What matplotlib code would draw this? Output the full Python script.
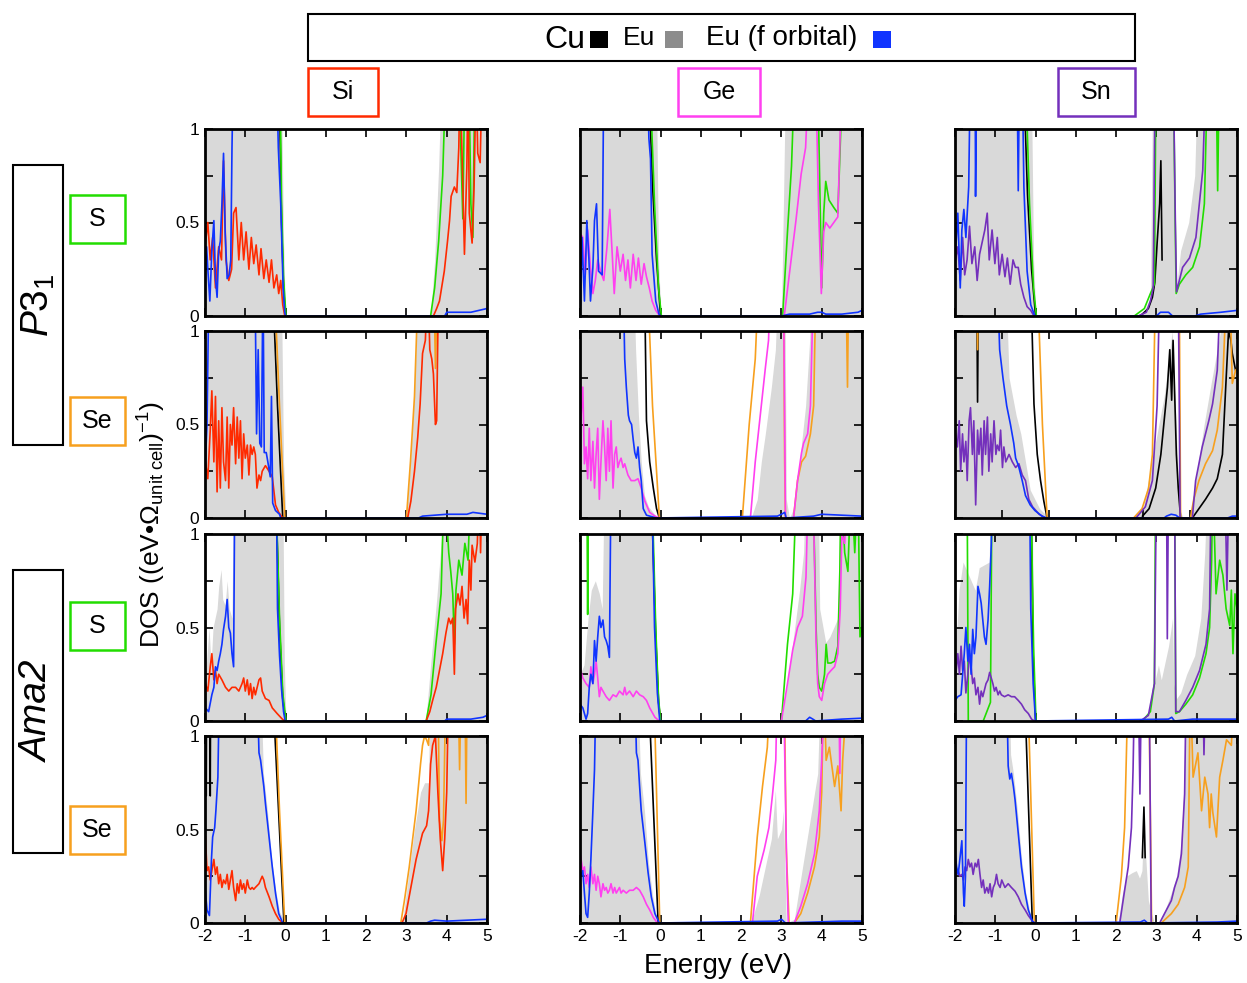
import numpy as np
import matplotlib
matplotlib.use('Agg')
import matplotlib.pyplot as plt
from matplotlib.patches import Rectangle

plt.rcParams['font.family'] = ['Liberation Sans', 'DejaVu Sans']
plt.rcParams['mathtext.fontset'] = 'custom'
plt.rcParams['mathtext.rm'] = 'Liberation Sans'
plt.rcParams['mathtext.it'] = 'Liberation Sans:italic'

NAN = float('nan')
GAP = (NAN, NAN)

# (energy in eV, DOS) pairs; 1.3 / 1.5 means off the top of the scale
# ---------------- P3_1 , S ----------------
si_ps_eu = [(-2, 1.5), (-0.12, 1.5), (-0.05, 0.4), (0, 0), (3.6, 0), (3.7, 0.3), (3.8, 0.8), (3.9, 1.5), (5, 1.5)]
si_ps_euf = [(-2.0, .2), (-1.96, .37), (-1.93, .25), (-1.88, .08), (-1.83, .35), (-1.78, .51), (-1.74, .2), (-1.70, .1),
             (-1.66, .35), (-1.62, .4), (-1.58, .6), (-1.54, .87), (-1.50, .45), (-1.45, .2), (-1.40, .22), (-1.36, .3),
             (-1.33, .9), (-1.30, 1.3), (-0.22, 1.3), (-0.18, .9), (-0.12, .6), (-0.06, .15), (-0.02, .02), (0, 0),
             (3.95, 0), (4.0, .02), (4.3, .02), (4.6, .02), (5.0, .04)]
si_ps_x = [(-1.99, .39), (-1.93, .5), (-1.87, .3), (-1.81, .42), (-1.74, .15), (-1.66, .37), (-1.59, .3), (-1.54, .83),
           (-1.48, .3), (-1.41, .19), (-1.34, .25), (-1.29, .55), (-1.23, .58), (-1.16, .3), (-1.10, .5), (-1.04, .3),
           (-0.98, .45), (-0.91, .25), (-0.85, .42), (-0.79, .28), (-0.73, .38), (-0.66, .22), (-0.61, .36), (-0.54, .2),
           (-0.48, .3), (-0.41, .18), (-0.35, .3), (-0.29, .15), (-0.22, .22), (-0.17, .12), (-0.12, .19), (-0.07, .06),
           (-0.02, 0), GAP, (3.67, 0), (3.75, .04), (3.82, .08), (3.94, .24), (4.02, .4), (4.07, .51), (4.11, .64),
           (4.19, .69), (4.25, .66), (4.3, .9), (4.33, 1.3), (4.38, .87), (4.44, .33), (4.5, .8), (4.53, 1.3),
           (4.56, .55), (4.63, .39), (4.68, .7), (4.73, 1.3), (4.77, .87), (4.83, .82), (4.88, 1.3), (5.0, 1.3)]
si_ps_ch = [(-2, 1.3), (-0.14, 1.3), (-0.1, .6), (-0.05, .2), (0.01, 0), GAP, (3.6, 0), (3.7, .15), (3.8, .4), (3.9, .75),
            (3.98, 1.3), (4.3, 1.3), (4.35, .9), (4.4, .52), (4.45, 1.3), (4.55, 1.3), (4.6, .6), (4.65, .42),
            (4.7, 1.3), (5, 1.3)]
si_ps_cu = [(-2, 1.3), (-0.16, 1.3), (-0.1, .5), (-0.05, .15), (0, 0)]

ge_ps_eu = [(-2, 1.5), (-0.12, 1.5), (-0.05, .3), (0.01, 0), (3.0, 0), (3.05, .6), (3.12, 1.5), (5, 1.5)]
ge_ps_euf = [(-1.99, .06), (-1.95, .42), (-1.89, .08), (-1.83, .51), (-1.78, .31), (-1.74, .08), (-1.68, .26),
             (-1.64, .51), (-1.59, .6), (-1.54, .24), (-1.45, .22), (-1.41, 1.3), (-0.33, 1.3), (-0.29, .95),
             (-0.25, .84), (-0.21, .33), (-0.12, .08), (-0.04, .01), (0, 0), (3.0, 0), (3.2, .01), (3.7, .01),
             (3.9, .02), (4.0, .02), (4.1, .01), (4.5, .01), (4.9, .02), (5, .03)]
ge_ps_x = [(-1.99, .44), (-1.93, .42), (-1.87, .22), (-1.81, .46), (-1.74, .26), (-1.68, .12), (-1.62, .19),
           (-1.56, .30), (-1.49, .24), (-1.41, .19), (-1.33, .37), (-1.26, .57), (-1.2, .33), (-1.15, .12),
           (-1.08, .37), (-1.0, .24), (-0.93, .33), (-0.87, .19), (-0.81, .30), (-0.75, .15), (-0.68, .33),
           (-0.61, .19), (-0.55, .31), (-0.48, .17), (-0.41, .28), (-0.35, .21), (-0.28, .15), (-0.21, .08),
           (-0.12, .03), (-0.02, 0), GAP, (3.07, 0), (3.24, .3), (3.36, .51), (3.49, .76), (3.6, .9), (3.68, 1.3),
           (3.85, 1.3), (3.92, .6), (3.99, .12), (4.05, .45), (4.1, .5), (4.2, .47), (4.3, .5), (4.4, .53),
           (4.5, 1.3), (5, 1.3)]
ge_ps_ch = [(-2, 1.3), (-0.27, 1.3), (-0.15, .6), (-0.05, .15), (0.02, 0), GAP, (3.03, 0), (3.15, .45), (3.25, .8),
            (3.33, 1.3), (3.9, 1.3), (3.96, .6), (4.0, .15), (4.05, .55), (4.1, .72), (4.18, .62), (4.3, .58),
            (4.4, .55), (4.45, .85), (4.52, 1.3), (5, 1.3)]
ge_ps_cu = [(-2, 1.3), (-0.3, 1.3), (-0.2, .7), (-0.1, .3), (0, 0)]

sn_ps_eu = [(-2, 1.5), (-0.12, 1.5), (-0.05, .3), (0.01, 0), (2.5, 0), (2.7, .03), (2.85, .1), (2.92, 1.5),
            (3.42, 1.5), (3.47, .1), (3.6, .35), (3.8, .5), (3.95, .75), (4.05, 1.5), (5, 1.5)]
sn_ps_euf = [(-1.99, .33), (-1.93, .55), (-1.87, .15), (-1.83, .46), (-1.78, .57), (-1.73, .42), (-1.66, .69),
             (-1.62, 1.3), (-1.5, 1.3), (-1.49, .64), (-1.46, 1.3), (-0.46, 1.3), (-0.43, .67), (-0.40, 1.3),
             (-0.33, 1.3), (-0.29, .69), (-0.21, .24), (-0.12, .06), (-0.02, 0), (3.0, 0), (3.1, .02), (3.3, .02),
             (3.4, 0), (3.95, 0), (4.1, .01), (4.6, .02), (5, .03)]
sn_ps_x = [(-1.99, .30), (-1.93, .37), (-1.87, .19), (-1.81, .42), (-1.76, .22), (-1.70, .30), (-1.64, .48),
           (-1.58, .28), (-1.51, .37), (-1.45, .19), (-1.39, .33), (-1.33, .39), (-1.26, .46), (-1.20, .55),
           (-1.15, .30), (-1.08, .46), (-1.01, .28), (-0.95, .42), (-0.90, .22), (-0.83, .33), (-0.76, .21),
           (-0.70, .31), (-0.63, .17), (-0.56, .30), (-0.50, .26), (-0.43, .26), (-0.37, .17), (-0.29, .10),
           (-0.21, .05), (-0.12, .03), (-0.04, 0), GAP, (2.55, 0), (2.75, .02), (2.85, .08), (2.92, .15),
           (2.97, 1.3), (3.42, 1.3), (3.47, .5), (3.5, .13), (3.65, .26), (3.82, .31), (3.98, .42), (4.15, .78),
           (4.23, 1.3), (5, 1.3)]
sn_ps_ch = [(-2, 1.3), (-0.25, 1.3), (-0.15, .6), (-0.05, .15), (0.02, 0), GAP, (2.45, 0), (2.7, .04), (2.85, .12),
            (2.95, .17), (2.99, 1.3), (3.42, 1.3), (3.46, .6), (3.49, .12), (3.57, .17), (3.73, .22), (3.9, .26),
            (4.07, .37), (4.19, .6), (4.27, 1.3), (4.48, 1.3), (4.52, .67), (4.56, 1.3), (5, 1.3)]
sn_ps_cu = [(-2, 1.3), (-0.3, 1.3), (-0.2, .65), (-0.1, .25), (0, 0), GAP, (2.6, 0), (2.8, .04), (2.9, .1),
            (2.96, .18), (3.02, .4), (3.08, .6), (3.11, .83), (3.14, .3)]

# ---------------- P3_1 , Se ----------------
si_pse_eu = [(-2, 1.5), (-0.12, 1.5), (-0.05, .3), (0.01, 0), (3.0, 0), (3.1, .3), (3.2, .7), (3.35, 1.5), (5, 1.5)]
si_pse_euf = [(-2, .25), (-1.95, .5), (-1.9, 1.3), (-0.76, 1.3), (-0.72, .45), (-0.68, .9), (-0.64, .4), (-0.6, .38),
              (-0.56, 1.3), (-0.53, .35), (-0.48, .35), (-0.44, .3), (-0.38, .22), (-0.35, .65), (-0.32, .08),
              (-0.25, .04), (-0.15, .02), (-0.12, 0), (3.3, 0), (3.4, .01), (4.0, .02), (4.5, .02), (4.65, .03),
              (5, .02)]
si_pse_x = [(-1.99, .30), (-1.93, .21), (-1.87, .47), (-1.83, .68), (-1.78, .30), (-1.74, .65), (-1.70, .14),
            (-1.66, .52), (-1.62, .16), (-1.58, .59), (-1.54, .30), (-1.49, .20), (-1.45, .54), (-1.41, .16),
            (-1.37, .50), (-1.33, .39), (-1.29, .59), (-1.24, .29), (-1.20, .54), (-1.16, .32), (-1.12, .52),
            (-1.08, .21), (-1.04, .45), (-1.0, .32), (-0.95, .39), (-0.91, .23), (-0.87, .39), (-0.83, .34),
            (-0.79, .38), (-0.75, .34), (-0.71, .16), (-0.66, .23), (-0.62, .20), (-0.58, .25), (-0.5, .28),
            (-0.41, .25), (-0.33, .22), (-0.25, .07), (-0.17, .03), (-0.07, 0), GAP, (3.03, 0), (3.11, .09),
            (3.2, .25), (3.28, .43), (3.34, .61), (3.4, .88), (3.47, .95), (3.53, 1.3), (3.58, .9), (3.63, .85),
            (3.67, .77), (3.72, .5), (3.75, .52), (3.8, 1.3), (5, 1.3)]
si_pse_ch = [(-2, 1.3), (-0.29, 1.3), (-0.15, .6), (-0.02, 0), GAP, (3.0, 0), (3.1, .3), (3.2, .65), (3.3, 1.3),
             (3.68, 1.3), (3.72, .8), (3.77, 1.3), (5, 1.3)]
si_pse_cu = [(-2, 1.3), (-0.33, 1.3), (-0.2, .6), (-0.07, 0)]

ge_pse_eu = [(-2, 1.5), (-0.7, 1.5), (-0.62, .9), (-0.55, .55), (-0.48, .3), (-0.4, .12), (-0.3, .06), (-0.15, .02),
             (-0.05, 0), (2.25, 0), (2.4, .1), (2.5, .3), (2.6, .45), (2.75, .7), (2.85, .9), (2.95, 1.5), (3.08, 1.5),
             (3.12, .1), (3.2, 0), (3.3, .05), (3.45, .3), (3.6, .6), (3.7, .95), (3.75, 1.5), (5, 1.5)]
ge_pse_euf = [(-2, 1.3), (-0.93, 1.3), (-0.89, .85), (-0.85, .7), (-0.8, .55), (-0.77, .52), (-0.72, .5),
              (-0.68, .42), (-0.64, .35), (-0.6, .32), (-0.56, .38), (-0.52, .27), (-0.48, .2), (-0.43, .05),
              (-0.35, .015), (-0.1, 0), (2.9, .01), (3.0, .02), (3.08, .03), (3.12, 0), (3.8, .01), (4.0, .02),
              (4.5, .015), (5, .01)]
ge_pse_x = [(-2.0, .30), (-1.98, .52), (-1.93, .70), (-1.89, .29), (-1.85, .38), (-1.81, .21), (-1.77, .48),
            (-1.73, .20), (-1.68, .41), (-1.64, .16), (-1.6, .34), (-1.56, .48), (-1.52, .10), (-1.48, .30),
            (-1.43, .52), (-1.39, .38), (-1.35, .20), (-1.31, .48), (-1.27, .25), (-1.23, .52), (-1.18, .16),
            (-1.14, .34), (-1.1, .38), (-1.06, .27), (-1.02, .30), (-0.98, .32), (-0.93, .27), (-0.89, .29),
            (-0.81, .23), (-0.73, .20), (-0.64, .20), (-0.56, .21), (-0.48, .16), (-0.39, .09), (-0.27, .03),
            (-0.14, .01), (-0.03, 0), GAP, (2.23, 0), (2.35, .3), (2.5, .6), (2.6, .8), (2.68, .95), (2.73, 1.3),
            (3.05, 1.3), (3.1, 0), (3.3, 0), (3.4, .2), (3.5, .35), (3.55, .4), (3.65, .45), (3.72, .6),
            (3.8, 1.3), (5, 1.3)]
ge_pse_ch = [(-2, 1.3), (-0.33, 1.3), (-0.2, .6), (-0.1, .25), (-0.03, 0), GAP, (2.03, 0), (2.2, .5), (2.35, .85),
             (2.44, 1.3), (3.05, 1.3), (3.08, .3), (3.1, 0), (3.3, 0), (3.4, .2), (3.5, .3), (3.6, .33),
             (3.65, .38), (3.72, .45), (3.8, .6), (3.86, 1.3), (4.6, 1.3), (4.64, .7), (4.67, 1.3), (5, 1.3)]
ge_pse_cu = [(-2, 1.3), (-0.4, 1.3), (-0.35, .52), (-0.27, .3), (-0.18, .16), (-0.1, .05), (-0.03, 0)]

# this panel runs from -2 to 4 eV
sn_pse_eu = [(-2, 1.5), (-0.95, 1.5), (-0.85, .75), (-0.7, .55), (-0.6, .45), (-0.5, .3), (-0.4, .15), (-0.2, .05),
             (0, 0), (1.85, 0), (2.0, .05), (2.15, .25), (2.3, .45), (2.45, .65), (2.55, .85), (2.62, 1.0),
             (2.67, .7), (2.72, .4), (2.78, .05), (2.85, 0), (3.0, 0), (3.15, .25), (3.3, .5), (3.45, .72),
             (3.65, 1.0), (3.75, 1.5), (4, 1.5)]
sn_pse_euf = [(-2, 1.3), (-1.1, 1.3), (-1.05, .9), (-0.98, .75), (-0.9, .6), (-0.82, .5), (-0.75, .4), (-0.71, .32),
              (-0.65, .28), (-0.57, .2), (-0.5, .12), (-0.4, .07), (-0.3, .04), (-0.15, .01), (-0.05, 0),
              (2.45, 0), (2.5, .01), (2.6, .02), (2.7, .015), (2.78, 0), (3.8, 0), (3.9, .01), (4, .01)]
sn_pse_x = [(-1.99, .45), (-1.95, .38), (-1.91, .52), (-1.88, .25), (-1.84, .45), (-1.81, .30), (-1.77, .41),
            (-1.74, .20), (-1.70, .52), (-1.67, .59), (-1.63, .34), (-1.60, .52), (-1.56, .07), (-1.52, .47),
            (-1.49, .34), (-1.45, .48), (-1.42, .23), (-1.38, .52), (-1.35, .34), (-1.31, .54), (-1.28, .25),
            (-1.24, .45), (-1.21, .30), (-1.17, .52), (-1.13, .34), (-1.10, .39), (-1.06, .36), (-1.03, .47),
            (-0.99, .27), (-0.96, .38), (-0.92, .30), (-0.85, .34), (-0.78, .30), (-0.71, .27), (-0.64, .29),
            (-0.57, .23), (-0.50, .20), (-0.43, .10), (-0.35, .06), (-0.21, .02), (-0.07, 0), GAP, (1.85, 0),
            (2.05, .06), (2.2, .2), (2.3, .6), (2.36, 1.3), (2.75, 1.3), (2.79, 0), (3.05, 0), (3.12, .2),
            (3.26, .38), (3.4, .52), (3.48, .61), (3.58, .79), (3.66, 1.3), (4, 1.3)]
sn_pse_ch = [(-2, 1.3), (-1.54, 1.3), (-1.52, .9), (-1.5, 1.3), (-0.25, 1.3), (-0.14, .5), (-0.04, 0), GAP,
             (1.8, 0), (1.98, .05), (2.12, .16), (2.2, .34), (2.27, 1.3), (2.77, 1.3), (2.8, 0), (3.01, 0),
             (3.08, .1), (3.19, .2), (3.33, .29), (3.48, .36), (3.58, .47), (3.69, .7), (3.79, 1.3), (3.84, 1.3),
             (3.9, .72), (3.97, .79), (4.0, .8)]
sn_pse_cu = [(-2, 1.3), (-1.54, 1.3), (-1.52, .62), (-1.5, 1.3), (-0.39, 1.3), (-0.32, .61), (-0.25, .34),
             (-0.18, .2), (-0.11, .09), (-0.04, 0), GAP, (1.99, .01), (2.13, .05), (2.27, .16), (2.38, .34),
             (2.45, .52), (2.52, .7), (2.57, .9), (2.61, .63), (2.64, .95), (2.68, .61), (2.71, .34), (2.75, .16),
             (2.8, 0), GAP, (3.05, 0), (3.19, .05), (3.33, .1), (3.48, .16), (3.58, .21), (3.69, .34), (3.76, .7),
             (3.82, 1.0), (3.87, .95), (3.9, .88), (3.97, .79)]

# ---------------- Ama2 , S ----------------
si_as_eu = [(-2, .2), (-1.95, .35), (-1.9, .5), (-1.85, .3), (-1.8, .5), (-1.75, .55), (-1.7, .6), (-1.66, .72),
            (-1.6, .81), (-1.56, .65), (-1.5, .62), (-1.45, .75), (-1.4, .6), (-1.33, .55), (-1.28, 1.5),
            (-0.08, 1.5), (-0.03, .3), (0.01, 0), (3.48, 0), (3.6, .3), (3.75, .65), (3.88, 1.0), (3.92, 1.5),
            (5, 1.5)]
si_as_euf = [(-1.99, .07), (-1.91, .05), (-1.83, .14), (-1.78, .18), (-1.74, .29), (-1.70, .27), (-1.66, .32),
             (-1.62, .36), (-1.58, .41), (-1.54, .49), (-1.49, .56), (-1.45, .65), (-1.41, .50), (-1.37, .47),
             (-1.33, .36), (-1.29, .29), (-1.26, 1.3), (-0.23, 1.3), (-0.2, .6), (-0.15, .35), (-0.1, .17),
             (-0.05, .05), (-0.01, 0), (3.95, 0), (4.0, .01), (4.6, .01), (4.9, .02), (5, .03)]
si_as_x = [(-1.99, .20), (-1.93, .16), (-1.87, .29), (-1.83, .36), (-1.78, .22), (-1.74, .27), (-1.70, .20),
           (-1.66, .25), (-1.58, .22), (-1.49, .18), (-1.41, .16), (-1.33, .18), (-1.24, .18), (-1.16, .16),
           (-1.08, .20), (-1.04, .23), (-1.0, .16), (-0.95, .22), (-0.91, .14), (-0.87, .20), (-0.83, .12),
           (-0.79, .18), (-0.75, .14), (-0.66, .22), (-0.62, .23), (-0.58, .16), (-0.5, .12), (-0.41, .11),
           (-0.33, .07), (-0.21, .04), (-0.08, .01), (-0.02, 0), GAP, (3.49, 0), (3.58, .05), (3.65, .11),
           (3.74, .18), (3.82, .27), (3.9, .36), (3.98, .47), (4.05, .55), (4.1, .52), (4.15, .55), (4.19, .25),
           (4.22, .6), (4.28, .68), (4.33, .62), (4.38, .72), (4.43, .55), (4.48, .65), (4.52, .52), (4.56, .86),
           (4.6, .7), (4.63, .94), (4.7, .85), (4.76, .95), (4.81, 1.3), (4.84, .9), (4.88, 1.3), (5, 1.3)]
si_as_ch = [(-2, 1.3), (-0.25, 1.3), (-0.15, .55), (-0.07, .15), (0.01, 0), GAP, (3.49, 0), (3.61, .14), (3.73, .41),
            (3.86, .68), (3.94, 1.3), (4.05, .9), (4.1, .8), (4.15, .68), (4.19, .41), (4.23, .7), (4.3, .86),
            (4.38, .78), (4.45, .95), (4.53, .86), (4.6, 1.3), (5, 1.3)]
si_as_cu = [(-2, 1.3), (-0.25, 1.3), (-0.15, .5), (-0.07, .12), (0, 0)]

ge_as_eu = [(-2, .25), (-1.9, .3), (-1.8, .55), (-1.72, .7), (-1.62, .75), (-1.52, .68), (-1.45, .6), (-1.38, 1.5),
            (-0.25, 1.5), (-0.15, .6), (-0.05, .15), (0, 0), (3.0, 0), (3.15, .2), (3.3, .45), (3.45, .7),
            (3.55, .9), (3.62, 1.5), (3.9, 1.5), (3.95, .6), (4.1, .42), (4.2, .45), (4.3, .5), (4.4, .55),
            (4.5, 1.5), (5, 1.5)]
ge_as_euf = [(-2.0, .09), (-1.93, .07), (-1.85, .01), (-1.81, .04), (-1.77, .18), (-1.73, .25), (-1.68, .2),
             (-1.64, .43), (-1.6, .32), (-1.56, .45), (-1.52, .56), (-1.48, .5), (-1.43, .54), (-1.39, .45),
             (-1.35, .43), (-1.31, .4), (-1.27, .34), (-1.23, 1.3), (-0.22, 1.3), (-0.15, .5), (-0.08, .15),
             (-0.02, 0), (3.6, 0), (3.7, .02), (3.78, .01), (3.85, 0), (4.5, .01), (5, .015)]
ge_as_x = [(-2.0, .31), (-1.98, .27), (-1.93, .23), (-1.85, .20), (-1.77, .18), (-1.73, .29), (-1.68, .20),
           (-1.64, .25), (-1.6, .32), (-1.56, .23), (-1.52, .13), (-1.48, .18), (-1.43, .16), (-1.35, .13),
           (-1.27, .11), (-1.18, .14), (-1.1, .13), (-1.02, .16), (-0.93, .14), (-0.89, .18), (-0.85, .14),
           (-0.77, .16), (-0.68, .13), (-0.6, .16), (-0.52, .14), (-0.43, .13), (-0.35, .11), (-0.27, .07),
           (-0.14, .02), (-0.03, 0), GAP, (3.0, 0), (3.15, .2), (3.28, .38), (3.4, .5), (3.52, .56), (3.61, .77),
           (3.67, 1.3), (3.78, 1.3), (3.86, .42), (3.9, .2), (3.94, .13), (4.0, .11), (4.07, .2), (4.15, .25),
           (4.23, .27), (4.32, .29), (4.4, .36), (4.46, .6), (4.5, 1.0), (4.57, .95), (4.65, 1.3), (5, 1.3)]
ge_as_ch = [(-2, 1.3), (-1.83, 1.3), (-1.81, .57), (-1.79, 1.3), (-0.22, 1.3), (-0.12, .5), (-0.05, .12), (0.0, 0),
            GAP, (3.0, 0), (3.15, .41), (3.28, .68), (3.38, 1.3), (3.78, 1.3), (3.86, .5), (3.9, .25), (3.94, .18),
            (4.0, .16), (4.07, .25), (4.11, .41), (4.15, .31), (4.23, .31), (4.32, .32), (4.4, .4), (4.45, .8),
            (4.48, 1.3), (4.57, .9), (4.65, .8), (4.73, 1.3), (4.82, .9), (4.9, 1.3), (4.95, .45), (5, .5)]
ge_as_cu = [(-2, 1.3), (-0.24, 1.3), (-0.12, .45), (-0.05, .1), (0, 0)]

sn_as_eu = [(-2, .45), (-1.95, .5), (-1.9, .7), (-1.8, .85), (-1.7, .8), (-1.6, .75), (-1.5, .7), (-1.43, .78),
            (-1.4, .82), (-1.15, .85), (-1.1, 1.5), (-0.1, 1.5), (-0.04, .3), (0.01, 0), (2.65, 0), (2.85, .05),
            (2.95, .2), (3.05, .3), (3.12, .22), (3.2, .3), (3.3, .4), (3.4, .55), (3.43, .2), (3.5, .12),
            (3.6, .15), (3.75, .25), (3.95, .35), (4.1, .55), (4.2, .9), (4.3, 1.5), (5, 1.5)]
sn_as_euf = [(-2.0, .11), (-1.93, .13), (-1.85, .14), (-1.77, .36), (-1.73, .5), (-1.68, .32), (-1.64, .41),
             (-1.6, .25), (-1.56, .49), (-1.52, .36), (-1.48, .45), (-1.43, .72), (-1.39, .68), (-1.35, .63),
             (-1.31, .54), (-1.27, .45), (-1.23, .41), (-1.18, .54), (-1.14, .72), (-1.1, .94), (-1.06, 1.3),
             (-0.15, 1.3), (-0.12, .6), (-0.06, .2), (0, 0), (3.3, .01), (3.38, .02), (3.45, 0), (3.9, .01),
             (5, .01)]
sn_as_x = [(-2.0, .34), (-1.98, .25), (-1.93, .36), (-1.89, .25), (-1.85, .4), (-1.81, .27), (-1.77, .32),
           (-1.73, .15), (-1.68, .25), (-1.64, .36), (-1.6, .29), (-1.56, .2), (-1.52, .23), (-1.48, .14),
           (-1.43, .18), (-1.39, .09), (-1.35, .16), (-1.31, .13), (-1.23, .2), (-1.18, .22), (-1.14, .26),
           (-1.1, .23), (-1.06, .2), (-1.02, .16), (-0.98, .18), (-0.93, .14), (-0.89, .16), (-0.85, .14),
           (-0.77, .13), (-0.68, .14), (-0.6, .13), (-0.52, .13), (-0.43, .11), (-0.35, .09), (-0.27, .06),
           (-0.18, .04), (-0.1, .01), (-0.03, 0), GAP, (2.6, 0), (2.8, .03), (2.95, .2), (3.0, 1.3), (3.25, 1.3),
           (3.27, .44), (3.3, 1.3), (3.45, 1.3), (3.48, .05), (3.57, .05), (3.73, .11), (3.9, .18), (4.07, .27),
           (4.23, .41), (4.32, .6), (4.36, 1.3), (4.7, 1.3), (4.75, .7), (4.8, 1.3), (5, 1.3)]
sn_as_ch = [(-2, 1.3), (-1.7, 1.3), (-1.67, 0), (-1.3, 0), (-1.12, .1), (-1.08, 1.3), (-0.12, 1.3), (-0.05, .4),
            (0.01, 0), GAP, (2.65, 0), (2.85, .05), (2.95, .2), (2.98, 1.3), (3.45, 1.3), (3.48, .04), (3.57, .05),
            (3.73, .09), (3.9, .14), (4.07, .23), (4.23, .36), (4.32, .5), (4.37, .86), (4.4, 1.3), (4.48, .68),
            (4.57, .86), (4.65, .78), (4.73, .6), (4.82, .51), (4.86, .7), (4.9, .36), (4.95, .68), (5, .6)]
sn_as_cu = [(-2, 1.3), (-0.12, 1.3), (-0.06, .35), (0, 0)]

# ---------------- Ama2 , Se ----------------
si_ase_eu = [(-2, 1.5), (-0.65, 1.5), (-0.55, .8), (-0.45, .6), (-0.35, .35), (-0.25, .18), (-0.15, .06), (0, 0),
             (2.9, 0), (3.05, .25), (3.2, .5), (3.35, .7), (3.45, .75), (3.55, .75), (3.6, 1.5), (5, 1.5)]
si_ase_euf = [(-2, .19), (-1.95, .07), (-1.89, .04), (-1.84, .34), (-1.81, .46), (-1.76, .51), (-1.73, .6),
              (-1.68, .78), (-1.64, 1.3), (-0.71, 1.3), (-0.66, .91), (-0.62, .87), (-0.58, .8), (-0.54, .73),
              (-0.5, .64), (-0.41, .46), (-0.33, .3), (-0.25, .16), (-0.17, .05), (-0.07, 0), (3.5, 0), (3.6, .01),
              (3.7, .015), (4.0, .01), (5, .02)]
si_ase_x = [(-1.99, .46), (-1.95, .28), (-1.91, .30), (-1.87, .23), (-1.83, .28), (-1.78, .34), (-1.74, .26),
            (-1.70, .30), (-1.66, .21), (-1.62, .26), (-1.58, .19), (-1.54, .23), (-1.49, .21), (-1.45, .26),
            (-1.41, .18), (-1.37, .23), (-1.33, .28), (-1.29, .19), (-1.24, .12), (-1.2, .21), (-1.16, .16),
            (-1.12, .23), (-1.08, .18), (-1.04, .21), (-1.0, .16), (-0.95, .23), (-0.91, .19), (-0.87, .18),
            (-0.83, .19), (-0.79, .18), (-0.75, .19), (-0.66, .21), (-0.58, .25), (-0.54, .23), (-0.5, .19),
            (-0.41, .14), (-0.33, .09), (-0.25, .05), (-0.17, .02), (-0.07, 0), GAP, (2.89, 0), (2.99, .05),
            (3.11, .19), (3.24, .34), (3.4, .48), (3.5, .52), (3.55, .6), (3.6, .85), (3.65, .95), (3.72, 1.0),
            (3.78, .7), (3.84, .45), (3.9, .28), (3.95, .45), (4.0, .7), (4.05, 1.3), (5, 1.3)]
si_ase_ch = [(-2, 1.3), (-0.28, 1.3), (-0.15, .6), (-0.02, 0), GAP, (2.86, 0), (2.95, .12), (3.07, .3), (3.24, .6),
             (3.35, .85), (3.4, .95), (3.45, 1.0), (3.5, .98), (3.55, .95), (3.6, 1.3), (3.78, 1.3), (3.82, .55),
             (3.88, .44), (3.92, .55), (3.98, 1.3), (4.28, 1.3), (4.32, .82), (4.36, 1.3), (4.45, 1.3), (4.48, .64),
             (4.51, 1.3), (5, 1.3)]
si_ase_cu = [(-1.98, 1.3), (-1.97, .68), (-1.96, 1.3), (-1.88, 1.3), (-1.87, .68), (-1.86, 1.3), (-0.33, 1.3),
             (-0.04, 0)]

ge_ase_eu = [(-2, 1.5), (-0.6, 1.5), (-0.5, .8), (-0.4, .6), (-0.3, .32), (-0.2, .15), (-0.1, .03), (0, 0),
             (2.25, 0), (2.45, .15), (2.6, .3), (2.75, .45), (2.85, .71), (2.9, .45), (3.0, .5), (3.05, .6),
             (3.12, 0), (3.32, .02), (3.45, .2), (3.6, .4), (3.75, .6), (3.9, .8), (4.0, 1.5), (5, 1.5)]
ge_ase_euf = [(-2, .28), (-1.98, .25), (-1.93, .28), (-1.89, .16), (-1.85, .05), (-1.81, .03), (-1.77, .16),
              (-1.73, .34), (-1.68, .6), (-1.64, .82), (-1.6, 1.3), (-0.64, 1.3), (-0.6, .91), (-0.56, .87),
              (-0.52, .73), (-0.48, .6), (-0.39, .43), (-0.31, .27), (-0.23, .14), (-0.14, .05), (-0.03, 0),
              (2.9, .01), (3.0, .02), (3.05, .01), (3.1, 0), (3.8, .005), (4.5, .01), (5, .01)]
ge_ase_x = [(-2.0, .37), (-1.98, .35), (-1.93, .28), (-1.89, .3), (-1.85, .21), (-1.81, .26), (-1.77, .19),
            (-1.73, .3), (-1.68, .21), (-1.64, .26), (-1.6, .175), (-1.56, .25), (-1.52, .21), (-1.48, .14),
            (-1.43, .21), (-1.39, .175), (-1.35, .19), (-1.31, .16), (-1.27, .175), (-1.23, .21), (-1.18, .16),
            (-1.14, .19), (-1.1, .16), (-1.06, .175), (-1.02, .19), (-0.98, .16), (-0.93, .175), (-0.85, .16),
            (-0.77, .175), (-0.68, .175), (-0.6, .19), (-0.52, .175), (-0.43, .14), (-0.35, .1), (-0.27, .07),
            (-0.18, .03), (-0.08, 0), GAP, (2.28, 0), (2.4, .25), (2.57, .39), (2.69, .51), (2.78, .69),
            (2.86, .87), (2.9, 1.3), (3.05, 1.3), (3.13, .3), (3.17, 0), (3.32, 0), (3.48, .09), (3.65, .21),
            (3.82, .37), (3.94, .6), (4.0, .87), (4.07, 1.3), (4.42, 1.3), (4.45, .8), (4.48, 1.3), (5, 1.3)]
ge_ase_ch = [(-2, 1.3), (-0.17, 1.3), (-0.02, 0), GAP, (2.23, 0), (2.4, .46), (2.53, .73), (2.65, .94), (2.73, 1.3),
             (3.07, 1.3), (3.12, .4), (3.19, 0), (3.32, 0), (3.48, .05), (3.65, .16), (3.82, .3), (3.94, .46),
             (4.0, .7), (4.05, 1.3), (4.11, .87), (4.19, .94), (4.32, .73), (4.4, .84), (4.48, .6), (4.52, .87),
             (4.65, 1.3), (5, 1.3)]
ge_ase_cu = [(-2, 1.3), (-0.31, 1.3), (-0.06, 0)]

sn_ase_eu = [(-2, 1.5), (-0.68, 1.5), (-0.62, .9), (-0.55, .8), (-0.45, .6), (-0.35, .35), (-0.25, .17),
             (-0.1, .02), (0, 0), (2.05, 0), (2.15, .15), (2.25, .25), (2.4, .27), (2.5, .28), (2.58, .24),
             (2.64, .28), (2.7, .6), (2.73, .37), (2.8, .12), (2.88, .05), (2.95, 0), (3.1, 0), (3.35, .15),
             (3.5, .25), (3.6, .4), (3.68, .7), (3.75, 1.5), (5, 1.5)]
sn_ase_euf = [(-2, .37), (-1.96, .3), (-1.92, .26), (-1.88, .34), (-1.83, .44), (-1.79, .16), (-1.77, .09),
              (-1.74, .25), (-1.71, 1.3), (-0.72, 1.3), (-0.68, .84), (-0.64, .77), (-0.6, .8), (-0.55, .73),
              (-0.51, .66), (-0.43, .48), (-0.35, .3), (-0.26, .16), (-0.18, .07), (-0.08, .01), (-0.02, 0),
              (2.6, .005), (2.7, .015), (2.78, 0), (4.5, .005), (5, .01)]
sn_ase_x = [(-2.0, .3), (-1.96, .26), (-1.92, .28), (-1.88, .25), (-1.83, .26), (-1.79, .23), (-1.75, .3),
            (-1.71, .28), (-1.67, .34), (-1.63, .3), (-1.59, .32), (-1.55, .26), (-1.5, .32), (-1.46, .3),
            (-1.42, .34), (-1.38, .26), (-1.34, .19), (-1.3, .23), (-1.26, .16), (-1.21, .19), (-1.17, .16),
            (-1.13, .21), (-1.09, .14), (-1.05, .19), (-1.01, .21), (-0.97, .26), (-0.93, .21), (-0.88, .19),
            (-0.84, .23), (-0.8, .21), (-0.76, .19), (-0.68, .21), (-0.6, .19), (-0.51, .17), (-0.43, .14),
            (-0.35, .1), (-0.26, .07), (-0.18, .04), (-0.08, .01), (-0.02, 0), GAP, (2.09, 0), (2.2, .16),
            (2.3, .3), (2.38, .51), (2.42, .82), (2.46, 1.3), (2.55, 1.3), (2.59, .69), (2.63, 1.3), (2.82, 1.3),
            (2.87, 0), (3.08, 0), (3.2, .05), (3.37, .12), (3.45, .19), (3.54, .25), (3.62, .37), (3.7, .69),
            (3.74, 1.3), (4.15, 1.3), (4.18, .9), (4.22, 1.3), (5, 1.3)]
sn_ase_ch = [(-2, 1.3), (-0.2, 1.3), (-0.03, 0), GAP, (2.0, 0), (2.13, .25), (2.21, .51), (2.3, 1.3), (2.81, 1.3),
             (2.88, 0), (3.12, 0), (3.37, .05), (3.54, .1), (3.7, .19), (3.79, .3), (3.84, 1.3), (3.91, .78),
             (4.03, .91), (4.12, .6), (4.2, .78), (4.28, .69), (4.32, .51), (4.36, .69), (4.4, .59), (4.49, .46),
             (4.57, .78), (4.65, .87), (4.74, .98), (4.86, .95), (4.94, 1.3), (5, 1.3)]
sn_ase_cu = [(-2, 1.3), (-0.28, 1.3), (-0.08, 0), GAP, (2.65, .35), (2.69, .62), (2.72, .35)]

# panel table: rows (P3_1 S, P3_1 Se, Ama2 S, Ama2 Se) x columns (Si, Ge, Sn)
grid = [
    [(si_ps_eu, si_ps_cu, si_ps_ch, si_ps_x, si_ps_euf), (ge_ps_eu, ge_ps_cu, ge_ps_ch, ge_ps_x, ge_ps_euf),
     (sn_ps_eu, sn_ps_cu, sn_ps_ch, sn_ps_x, sn_ps_euf)],
    [(si_pse_eu, si_pse_cu, si_pse_ch, si_pse_x, si_pse_euf), (ge_pse_eu, ge_pse_cu, ge_pse_ch, ge_pse_x, ge_pse_euf),
     (sn_pse_eu, sn_pse_cu, sn_pse_ch, sn_pse_x, sn_pse_euf)],
    [(si_as_eu, si_as_cu, si_as_ch, si_as_x, si_as_euf), (ge_as_eu, ge_as_cu, ge_as_ch, ge_as_x, ge_as_euf),
     (sn_as_eu, sn_as_cu, sn_as_ch, sn_as_x, sn_as_euf)],
    [(si_ase_eu, si_ase_cu, si_ase_ch, si_ase_x, si_ase_euf),
     (ge_ase_eu, ge_ase_cu, ge_ase_ch, ge_ase_x, ge_ase_euf),
     (sn_ase_eu, sn_ase_cu, sn_ase_ch, sn_ase_x, sn_ase_euf)],
]
elements = ['Si', 'Ge', 'Sn']
chalcogens = ['S', 'Se', 'S', 'Se']
groups = ['$\\mathit{P3}_{\\mathit{1}}$', 'Ama2']

elem_colors = ['#ff2a00', '#ff40f0', '#7430bc']
chal_colors = {'S': '#22dd00', 'Se': '#f7a01e'}
EU_GRAY = '#d9d9d9'
EUF_BLUE = '#1034ff'

W, H = 1247, 983
fig = plt.figure(figsize=(W / 100, H / 100), dpi=100)

col_left = [205, 580, 955]
row_top = [129, 331, 534, 736]
pw, ph = 282, 187


def unzip(pairs):
    a = np.array(pairs, dtype=float)
    return a[:, 0], a[:, 1]


for r in range(4):
    for c in range(3):
        eu, cu, ch, el, euf = grid[r][c]
        ax = fig.add_axes([col_left[c] / W, 1 - (row_top[r] + ph) / H, pw / W, ph / H])
        x, y = unzip(eu)
        ax.fill_between(x, y, 0, color=EU_GRAY, lw=0)
        for data, col in [(cu, 'black'), (ch, chal_colors[chalcogens[r]]), (el, elem_colors[c]), (euf, EUF_BLUE)]:
            x, y = unzip(data)
            ax.plot(x, y, color=col, lw=1.2)
        xmax = 4 if (r == 1 and c == 2) else 5
        ax.set_xlim(-2, xmax)
        ax.set_ylim(0, 1)
        ax.set_xticks(range(-2, xmax + 1))
        ax.set_yticks([0, 0.25, 0.5, 0.75, 1])
        ax.tick_params(direction='in', top=True, right=True, length=6, width=1.2, labelsize=12.5, pad=4)
        if c == 0:
            ax.set_yticklabels(['0', '', '0.5', '', '1'])
        else:
            ax.set_yticklabels([])
        if r == 3:
            ax.set_xticklabels([str(t) for t in range(-2, xmax + 1)])
        else:
            ax.set_xticklabels([])
        for s in ax.spines.values():
            s.set_linewidth(2)


def box(x0, y0, x1, y1, color, text, size, lw=1.8, **kw):
    fig.add_artist(Rectangle((x0 / W, 1 - y1 / H), (x1 - x0) / W, (y1 - y0) / H, transform=fig.transFigure,
                             fill=False, ec=color, lw=lw))
    if text:
        fig.text((x0 + x1) / 2 / W, 1 - (y0 + y1) / 2 / H, text, ha='center', va='center', fontsize=size, **kw)


# legend bar
box(308, 14, 1135, 61, 'black', '', 0, lw=1.5)
fig.text(565 / W, 1 - 40 / H, 'Cu', ha='center', va='center', fontsize=23)
fig.text(639 / W, 1 - 38 / H, 'Eu', ha='center', va='center', fontsize=19)
fig.text(782 / W, 1 - 38 / H, 'Eu (f orbital)', ha='center', va='center', fontsize=20)
for x0, col in [(590, 'black'), (665, '#8c8c8c'), (873, EUF_BLUE)]:
    fig.add_artist(Rectangle((x0 / W, 1 - 48 / H), 18 / W, 17 / H, transform=fig.transFigure, fc=col, ec='none'))

# column labels
box(308, 68, 378, 116, elem_colors[0], elements[0], 18)
box(678, 68, 760, 116, elem_colors[1], elements[1], 18)
box(1058, 68, 1135, 116, elem_colors[2], elements[2], 18)

# row labels
box(13, 165, 63, 445, 'black', groups[0], 28, lw=1.5, rotation=90)
box(13, 570, 63, 853, 'black', groups[1], 28, lw=1.5, rotation=90, fontstyle='italic')
for (y0, y1), lab in zip([(195, 243), (397, 445), (602, 650), (806, 854)], chalcogens):
    box(70, y0, 125, y1, chal_colors[lab], lab, 18)

fig.text(152 / W, 1 - 525 / H, 'DOS ((eV•Ω$_{\\mathregular{unit\\ cell}}$)$^{\\mathregular{-1}}$)',
         rotation=90, ha='center', va='center', fontsize=19)
fig.text(718 / W, 1 - 966 / H, 'Energy (eV)', ha='center', va='center', fontsize=20)

fig.savefig('out.png', dpi=100, facecolor='white')
